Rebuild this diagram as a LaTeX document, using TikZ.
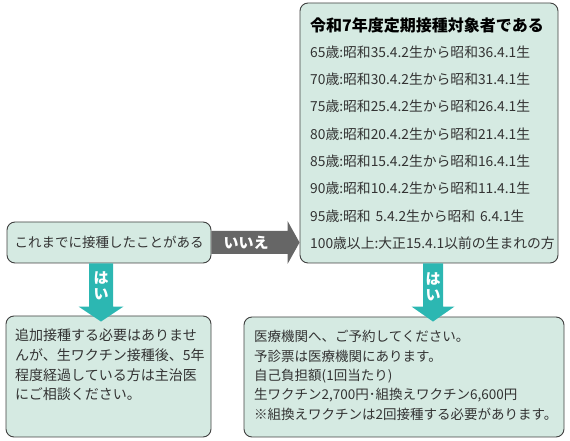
\documentclass[tikz,border=0pt]{standalone}
\usepackage{fontspec}
\setmainfont{Noto Sans CJK JP}
\definecolor{boxfill}{HTML}{D5EAE2}
\definecolor{boxline}{HTML}{404040}
\definecolor{yesteal}{HTML}{2CB7B2}
\definecolor{nogray}{HTML}{666666}
\definecolor{inktext}{HTML}{333333}
\tikzset{
  flowbox/.style={draw=boxline, fill=boxfill, line width=0.9pt, rounded corners=8pt, inner sep=0pt},
  titletext/.style={anchor=west, inner sep=0pt, text=black, font=\fontsize{16}{18}\selectfont\bfseries},
  linetext/.style={anchor=west, inner sep=0pt, text=inktext, font=\fontsize{13.8}{16}\selectfont},
  notetext/.style={anchor=north west, inner sep=0pt, align=left, text=inktext},
  answer/.style={inner sep=0pt, align=center, text=white, font=\fontsize{15}{16}\selectfont\bfseries}
}
\begin{document}
\begin{tikzpicture}[x=1pt,y=1pt]
    \useasboundingbox (0,0) rectangle (570,441);

    % Boxes
    \node[flowbox, minimum width=258pt, minimum height=260pt] (target) at (429,308) {};
    \node[flowbox, minimum width=204pt, minimum height=41pt, text=inktext,
          font=\fontsize{13.5}{16}\selectfont] (start) at (109,198.5) {これまでに接種したことがある};
    \node[flowbox, minimum width=205pt, minimum height=121pt] (note1) at (108.5,64.5) {};
    \node[flowbox, minimum width=320pt, minimum height=120pt] (note2) at (404,64) {};

    % No arrow
    \coordinate (nohead) at ([xshift=-12pt]target.west |- start.east);
    \fill[nogray] ([yshift=11.5pt]start.east) -- ([yshift=11.5pt]nohead)
        -- ([yshift=21.5pt]nohead) -- (target.west |- start.east)
        -- ([yshift=-21.5pt]nohead) -- ([yshift=-11.5pt]nohead)
        -- ([yshift=-11.5pt]start.east) -- cycle;
    \node[answer] (notext) at (246,198) {いいえ};

    % Target groups
    \node[titletext] (title) at (310,416) {令和7年度定期接種対象者である};
    \foreach \age [count=\i] in {65歳:昭和35.4.2生から昭和36.4.1生,
        70歳:昭和30.4.2生から昭和31.4.1生,
        75歳:昭和25.4.2生から昭和26.4.1生,
        80歳:昭和20.4.2生から昭和21.4.1生,
        85歳:昭和15.4.2生から昭和16.4.1生,
        90歳:昭和10.4.2生から昭和11.4.1生,
        95歳:昭和\hspace{0.35em}5.4.2生から昭和\hspace{0.35em}6.4.1生,
        100歳以上:大正15.4.1以前の生まれの方}
        \node[linetext] (age\i) at (310,{389-27.3*(\i-1)}) {\age};

    % Yes arrows
    \coordinate (yesA) at ([xshift=-8pt]start.south);
    \coordinate (tipA) at ([yshift=-6pt]yesA |- note1.north);
    \fill[yesteal] ([xshift=-12pt]yesA) -- ([xshift=12pt]yesA)
        -- ([xshift=12pt,yshift=15pt]tipA) -- ([xshift=22.5pt,yshift=15pt]tipA)
        -- (tipA) -- ([xshift=-22.5pt,yshift=15pt]tipA)
        -- ([xshift=-12pt,yshift=15pt]tipA) -- cycle;
    \node[answer] (yesAtext) at (101,155.5) {は\\い};

    \coordinate (yesB) at ([xshift=4pt]target.south);
    \coordinate (tipB) at ([yshift=-5pt]yesB |- note2.north);
    \fill[yesteal] ([xshift=-10pt]yesB) -- ([xshift=10pt]yesB)
        -- ([xshift=10pt,yshift=15pt]tipB) -- ([xshift=21.5pt,yshift=15pt]tipB)
        -- (tipB) -- ([xshift=-21.5pt,yshift=15pt]tipB)
        -- ([xshift=-10pt,yshift=15pt]tipB) -- cycle;
    \node[answer] (yesBtext) at (433,154.5) {は\\い};

    % Notes
    \node[notetext, font=\fontsize{14}{20}\selectfont] (advice) at (15,113) {追加接種する必要はありませ\\んが、生ワクチン接種後、5年\\程度経過している方は主治医\\にご相談ください。};
    \node[notetext, font=\fontsize{13.5}{19.3}\selectfont] (booking) at (254,110.6) {医療機関へ、ご予約してください。\\予診票は医療機関にあります。\\自己負担額(1回当たり)\\生ワクチン2,700円･組換えワクチン6,600円\\※組換えワクチンは2回接種する必要があります。};
\end{tikzpicture}
\end{document}
